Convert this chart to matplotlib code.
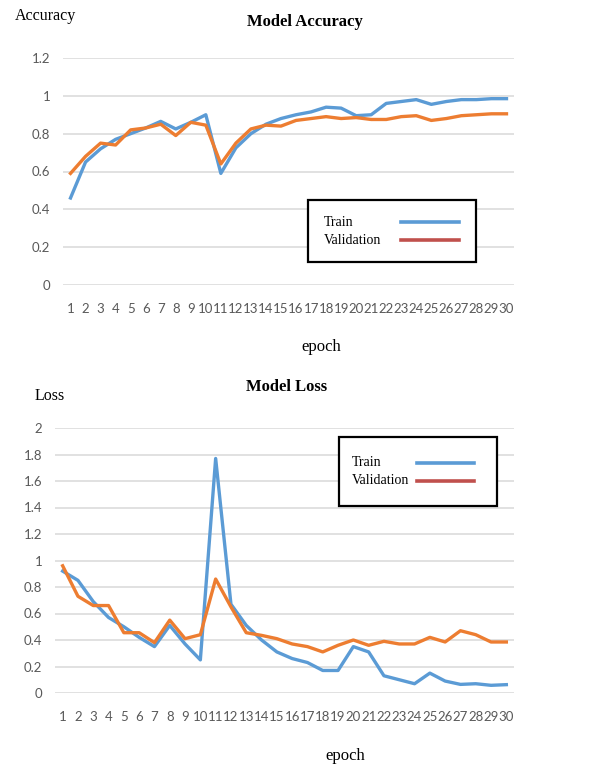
import matplotlib
matplotlib.use("Agg")
import matplotlib.pyplot as plt
from matplotlib.lines import Line2D
from matplotlib.patches import Rectangle

epochs = list(range(1, 31))

acc_train = [0.46, 0.65, 0.72, 0.77, 0.80, 0.83, 0.865, 0.825, 0.86, 0.90,
             0.59, 0.725, 0.80, 0.85, 0.88, 0.90, 0.915, 0.94, 0.935, 0.895,
             0.90, 0.96, 0.97, 0.98, 0.955, 0.97, 0.98, 0.98, 0.985, 0.985]
acc_val = [0.59, 0.68, 0.75, 0.74, 0.82, 0.83, 0.85, 0.79, 0.86, 0.845,
           0.64, 0.75, 0.825, 0.845, 0.84, 0.87, 0.88, 0.89, 0.88, 0.885,
           0.875, 0.875, 0.89, 0.895, 0.87, 0.88, 0.895, 0.90, 0.905, 0.905]

loss_train = [0.92, 0.85, 0.69, 0.57, 0.50, 0.42, 0.35, 0.51, 0.37, 0.25,
              1.77, 0.67, 0.51, 0.40, 0.31, 0.26, 0.23, 0.17, 0.17, 0.35,
              0.31, 0.13, 0.10, 0.07, 0.15, 0.09, 0.065, 0.07, 0.058, 0.063]
loss_val = [0.96, 0.73, 0.66, 0.66, 0.455, 0.455, 0.38, 0.55, 0.41, 0.44,
            0.86, 0.65, 0.455, 0.435, 0.41, 0.37, 0.35, 0.31, 0.36, 0.40,
            0.36, 0.39, 0.37, 0.37, 0.42, 0.385, 0.47, 0.44, 0.385, 0.385]

acc_ticks = [0, 0.2, 0.4, 0.6, 0.8, 1, 1.2]
loss_ticks = [0, 0.2, 0.4, 0.6, 0.8, 1, 1.2, 1.4, 1.6, 1.8, 2]
legend_labels = ["Train", "Validation"]

BLUE = "#5b9bd5"
ORANGE = "#ed7d31"
RED = "#c0504d"
SERIF = "Liberation Serif"

W, H = 613, 766
fig = plt.figure(figsize=(W / 100, H / 100), dpi=100)


def fx(px):
    return px / W


def fy(py):
    return 1 - py / H


def style_axes(ax, ticks, ylim):
    ax.set_xlim(0.5, 30.5)
    ax.set_ylim(*ylim)
    ax.set_yticks(ticks)
    ax.set_yticklabels(["%g" % t for t in ticks])
    ax.set_xticks(epochs)
    ax.set_xticklabels([str(e) for e in epochs])
    for s in ax.spines.values():
        s.set_visible(False)
    ax.grid(axis="y", color="#d9d9d9", lw=1.1)
    ax.set_axisbelow(True)
    ax.tick_params(length=0, labelsize=9.5, labelcolor="#595959")
    ax.tick_params(axis="y", pad=9)
    ax.tick_params(axis="x", pad=13)
    for lab in ax.get_xticklabels() + ax.get_yticklabels():
        lab.set_family("Lato")


# Excel-like legend: box, text on the left, line sample on the right
def draw_legend(box, text_x, line_x, rows_y):
    x0, y0, x1, y1 = box
    fig.add_artist(Rectangle((fx(x0), fy(y1)), fx(x1) - fx(x0), fy(y0) - fy(y1),
                             transform=fig.transFigure, facecolor="white",
                             edgecolor="black", lw=1.6, zorder=5))
    for label, color, y in zip(legend_labels, [BLUE, RED], rows_y):
        fig.text(fx(text_x), fy(y), label, family=SERIF, size=10,
                 va="center", ha="left", zorder=6)
        fig.add_artist(Line2D([fx(line_x[0]), fx(line_x[1])], [fy(y), fy(y)],
                              transform=fig.transFigure, color=color, lw=2.6, zorder=6))


# accuracy
ax1 = fig.add_axes([fx(63), fy(285), fx(514) - fx(63), fy(58) - fy(285)])
ax1.plot(epochs, acc_train, color=BLUE, lw=2.4)
ax1.plot(epochs, acc_val, color=ORANGE, lw=2.4)
style_axes(ax1, acc_ticks, (0, 1.2))
draw_legend((308, 200, 476, 262), 324, (401, 459), (222, 240))
fig.text(fx(15), fy(16), "Accuracy", family=SERIF, size=11.5, va="center", ha="left")
fig.text(fx(305), fy(22), "Model Accuracy", family=SERIF, size=12, weight="bold", va="center", ha="center")
fig.text(fx(321), fy(347), "epoch", family=SERIF, size=12, va="center", ha="center")

# loss
ax2 = fig.add_axes([fx(55), fy(693), fx(514) - fx(55), fy(428) - fy(693)])
ax2.plot(epochs, loss_train, color=BLUE, lw=2.4)
ax2.plot(epochs, loss_val, color=ORANGE, lw=2.4)
style_axes(ax2, loss_ticks, (0, 2))
draw_legend((339, 437, 497, 506), 352, (417, 474), (463, 481))
fig.text(fx(50), fy(396), "Loss", family=SERIF, size=11.5, va="center", ha="center")
fig.text(fx(287), fy(387), "Model Loss", family=SERIF, size=12, weight="bold", va="center", ha="center")
fig.text(fx(345), fy(756), "epoch", family=SERIF, size=12, va="center", ha="center")

fig.savefig("out.png", dpi=100, facecolor="white")
